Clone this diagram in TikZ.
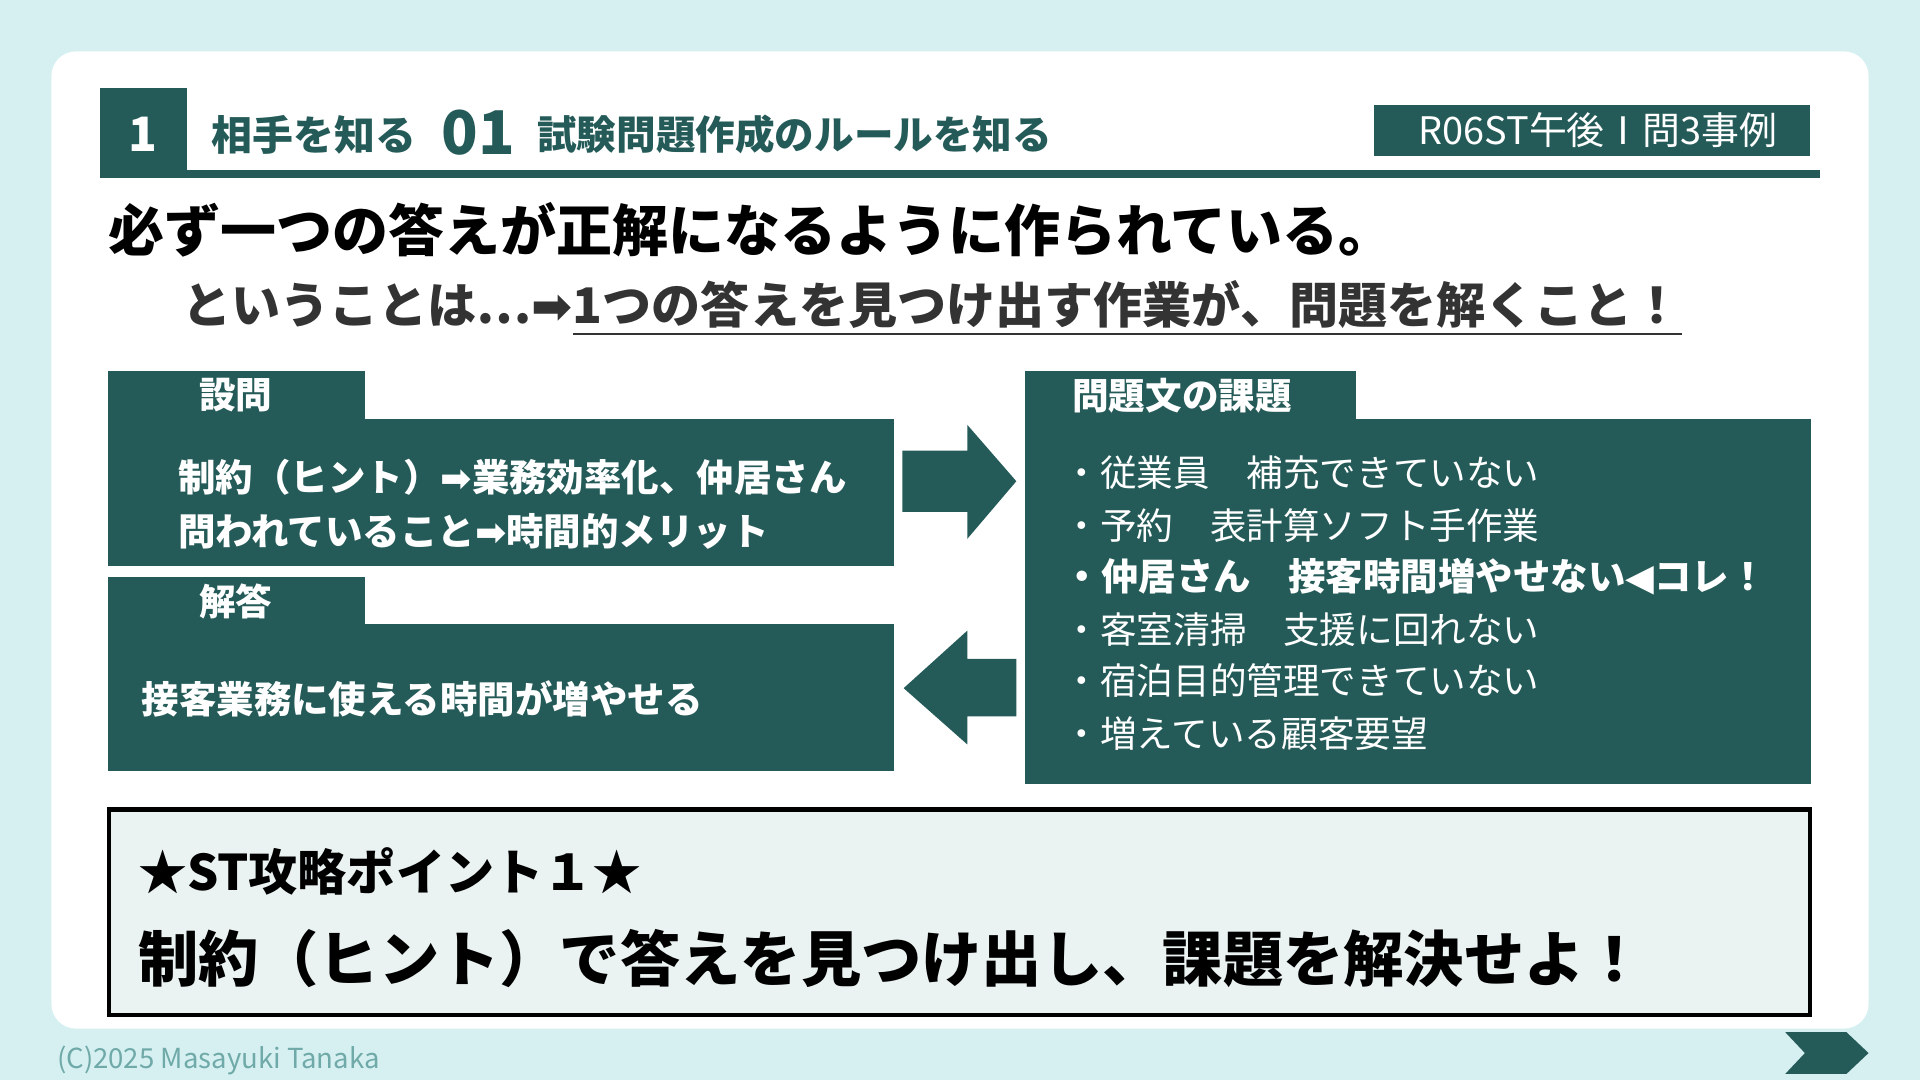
\documentclass[tikz,border=0pt]{standalone}
\usepackage{fontspec}
\setmainfont{Noto Sans CJK JP}
\newfontfamily\symfont{DejaVu Sans}
\usetikzlibrary{positioning}
\definecolor{bgcyan}{HTML}{D6F0F2}
\definecolor{teal}{HTML}{245B58}
\definecolor{boxgray}{HTML}{EAF2F2}
\definecolor{footgray}{HTML}{6FA9A8}
\tikzset{
  panel/.style={fill=teal,draw=none},
  tabtext/.style={text=white,font=\bfseries\fontsize{8.5}{10}\selectfont,anchor=west,inner sep=0},
  boxtext/.style={text=white,font=\bfseries\fontsize{8.7}{12.5}\selectfont,anchor=west,align=left,inner sep=0},
  bullet/.style={text=white,font=\fontsize{8.5}{10}\selectfont,anchor=west,inner sep=0},
}
\begin{document}
\begin{tikzpicture}[x=0.01cm,y=-0.01cm]
    % background
    \fill[bgcyan] (0,0) rectangle (1568,882);
    \fill[white,rounded corners=0.2cm] (42,42) rectangle (1526,840);
    \useasboundingbox (0,0) rectangle (1568,882);
    % header
    \fill[teal] (82,72) rectangle (153,140);
    \node[text=white,font=\bfseries\fontsize{11}{12}\selectfont] (num) at (117,110) {1};
    \node[text=teal,font=\bfseries\fontsize{9.5}{10}\selectfont,anchor=west,inner sep=0] (know) at (172,110) {相手を知る};
    \node[text=teal,font=\bfseries\fontsize{14}{14}\selectfont,anchor=west,inner sep=0] (zero) at (360,108) {01};
    \node[text=teal,font=\bfseries\fontsize{9.2}{10}\selectfont,anchor=west,inner sep=0] (rule) at (438,110) {試験問題作成のルールを知る};
    \fill[teal] (82,139) rectangle (1486,145);
    \fill[teal] (1122,86) rectangle (1478,127);
    \node[text=white,font=\fontsize{8.8}{10}\selectfont] (case) at (1305,106) {R06ST午後Ⅰ問3事例};
    % headline
    \node[font=\bfseries\fontsize{13}{14}\selectfont,anchor=west,inner sep=0] (head) at (88,188) {必ず一つの答えが正解になるように作られている。};
    \node[text=black!80,font=\bfseries\fontsize{11.4}{13}\selectfont,anchor=west,inner sep=0] (sub) at (148,252)
      {ということは…{\symfont ➡}\underline{1つの答えを見つけ出す作業が、問題を解くこと！}};
    % left panels
    \fill[panel] (88,303) rectangle (298,343);
    \fill[panel] (88,342) rectangle (730,462);
    \node[tabtext] (q) at (162,323) {設問};
    \node[boxtext] (hint) at (145,412) {制約（ヒント）{\symfont ➡}業務効率化、仲居さん\\問われていること{\symfont ➡}時間的メリット};
    \fill[panel] (88,471) rectangle (298,511);
    \fill[panel] (88,510) rectangle (730,630);
    \node[tabtext] (a) at (162,491) {解答};
    \node[boxtext] (ans) at (115,571) {接客業務に使える時間が増やせる};
    % arrows
    \fill[teal] (737,368) -- (790,368) -- (790,347) -- (830,393) -- (790,440) -- (790,418) -- (737,418) -- cycle;
    \fill[teal] (830,538) -- (790,538) -- (790,515) -- (738,562) -- (790,608) -- (790,585) -- (830,585) -- cycle;
    % right panel
    \fill[panel] (837,303) rectangle (1107,343);
    \fill[panel] (837,342) rectangle (1479,640);
    \node[tabtext] (issue) at (875,323) {問題文の課題};
    \node[bullet] (b1) at (868,386) {・従業員　補充できていない};
    \node[bullet] (b2) at (868,429) {・予約　表計算ソフト手作業};
    \node[bullet,font=\bfseries\fontsize{8.7}{10}\selectfont] (b3) at (868,471) {・仲居さん　接客時間増やせない{\symfont ◀}コレ！};
    \node[bullet] (b4) at (868,514) {・客室清掃　支援に回れない};
    \node[bullet] (b5) at (868,556) {・宿泊目的管理できていない};
    \node[bullet] (b6) at (868,599) {・増えている顧客要望};
    % point box
    \draw[fill=boxgray,line width=1pt] (89,661) rectangle (1478,829);
    \node[font=\bfseries\fontsize{11.4}{12}\selectfont,anchor=west,inner sep=0] (pt) at (112,712) {★ST攻略ポイント１★};
    \node[font=\bfseries\fontsize{14}{15}\selectfont,anchor=west,inner sep=0] (msg) at (112,783) {制約（ヒント）で答えを見つけ出し、課題を解決せよ！};
    % footer
    \node[text=footgray,font=\fontsize{6.4}{7}\selectfont,anchor=west,inner sep=0] (copy) at (46,866) {(C)2025 Masayuki Tanaka};
    \fill[teal] (1458,843) -- (1508,843) -- (1526,860) -- (1508,877) -- (1458,877) -- (1474,860) -- cycle;
\end{tikzpicture}
\end{document}
